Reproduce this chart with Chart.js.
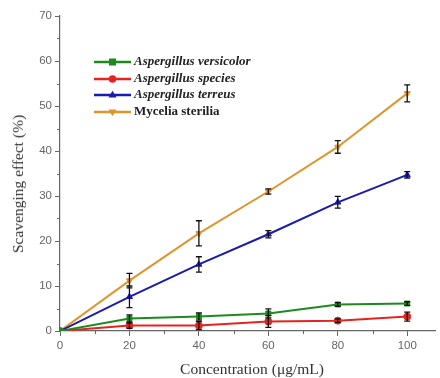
<!DOCTYPE html>
<html><head><meta charset="utf-8">
<script src="https://cdn.jsdelivr.net/npm/chart.js@4/dist/chart.umd.min.js"></script>
<style>
html,body{margin:0;padding:0;background:#fff;}
#wrap{position:relative;width:440px;height:378px;overflow:hidden;}
canvas{display:block;}
#legend{position:absolute;left:94px;top:53px;font-family:"Liberation Serif","DejaVu Serif",serif;font-size:13px;color:#222;}
#legend div{height:16.6px;line-height:16.6px;white-space:nowrap;}
#legend svg{vertical-align:middle;margin-right:2px;}
.title{position:absolute;font-family:"Liberation Serif","DejaVu Serif",serif;font-size:15.5px;color:#333;white-space:nowrap;line-height:18px;}
#ytitle{left:18px;top:184px;transform:translate(-50%,-50%) rotate(-90deg);}
#xtitle{left:252px;top:369px;transform:translate(-50%,-50%);}
</style></head><body>
<div id="wrap"><canvas id="c" width="440" height="378"></canvas>
<div id="legend"></div>
<div class="title" id="ytitle"></div>
<div class="title" id="xtitle"></div></div>
<script>
const concentrations = [0, 20, 40, 60, 80, 100];
const versicolor = [0, 2.8, 3.2, 3.9, 5.9, 6.1];
const versicolorErr = [0, 0.8, 0.8, 1.0, 0.4, 0.4];
const species = [0, 1.2, 1.2, 2.1, 2.3, 3.2];
const speciesErr = [0, 0.6, 0.9, 1.3, 0.4, 1.0];
const terreus = [0, 7.6, 14.8, 21.5, 28.6, 34.7];
const terreusErr = [0, 2.4, 1.7, 0.8, 1.3, 0.7];
const mycelia = [0, 11.2, 21.7, 31.0, 40.9, 52.8];
const myceliaErr = [0, 1.6, 2.8, 0.6, 1.4, 1.9];
const seriesNames = ["Aspergillus versicolor", "Aspergillus species", "Aspergillus terreus", "Mycelia sterilia"];
const yTicks = [0, 10, 20, 30, 40, 50, 60, 70];
const xTicks = [0, 20, 40, 60, 80, 100];
const xTitle = "Concentration (μg/mL)";
const yTitle = "Scavenging effect (%)";

const colors = ["#1e8a1e", "#e52420", "#1a1ab0", "#e0952c"];
const styles = ["rect", "circle", "triangle", "triangle"];
const rotations = [0, 0, 0, 180];
const vals = [versicolor, species, terreus, mycelia];
const errs = [versicolorErr, speciesErr, terreusErr, myceliaErr];

document.getElementById('xtitle').textContent = xTitle;
document.getElementById('ytitle').textContent = yTitle;

const datasets = vals.map((v, i) => ({
  label: seriesNames[i],
  data: concentrations.map((x, j) => ({x: x, y: v[j]})),
  errors: errs[i],
  borderColor: colors[i],
  backgroundColor: colors[i],
  borderWidth: 2,
  pointStyle: styles[i],
  rotation: rotations[i],
  pointRadius: 3.5,
  pointBorderWidth: 1,
  tension: 0
}));

const errorBars = {
  id: 'errorBars',
  afterDatasetsDraw(chart) {
    const ctx = chart.ctx;
    const xs = chart.scales.x, ys = chart.scales.y;
    ctx.save();
    ctx.strokeStyle = '#111';
    ctx.lineWidth = 1.3;
    chart.data.datasets.forEach(ds => {
      ds.data.forEach((p, j) => {
        const e = ds.errors[j];
        if (!e) return;
        const px = xs.getPixelForValue(p.x);
        const top = ys.getPixelForValue(p.y + e);
        const bot = ys.getPixelForValue(Math.max(p.y - e, 0));
        ctx.beginPath();
        ctx.moveTo(px, top); ctx.lineTo(px, bot);
        ctx.moveTo(px - 3, top); ctx.lineTo(px + 3, top);
        ctx.moveTo(px - 3, bot); ctx.lineTo(px + 3, bot);
        ctx.stroke();
      });
    });
    ctx.restore();
  }
};

const minorTicks = {
  id: 'minorTicks',
  afterDraw(chart) {
    const ctx = chart.ctx;
    const xs = chart.scales.x, ys = chart.scales.y;
    const a = chart.chartArea;
    ctx.save();
    ctx.strokeStyle = '#666';
    ctx.lineWidth = 1;
    for (let v = 5; v < 70; v += 10) {
      const py = Math.round(ys.getPixelForValue(v)) + 0.5;
      ctx.beginPath(); ctx.moveTo(a.left - 3, py); ctx.lineTo(a.left, py); ctx.stroke();
    }
    for (let v = 10; v < 110; v += 20) {
      const px = Math.round(xs.getPixelForValue(v)) + 0.5;
      ctx.beginPath(); ctx.moveTo(px, a.bottom); ctx.lineTo(px, a.bottom + 3); ctx.stroke();
    }
    ctx.restore();
  }
};

new Chart(document.getElementById('c'), {
  type: 'line',
  data: { datasets: datasets },
  plugins: [errorBars, minorTicks],
  options: {
    responsive: false,
    animation: false,
    layout: { padding: { top: 16, right: 2, left: 0, bottom: 0 } },
    plugins: { legend: { display: false }, tooltip: { enabled: false } },
    scales: {
      x: {
        type: 'linear', min: 0, max: 108,
        afterBuildTicks: s => { s.ticks = xTicks.map(v => ({value: v})); },
        afterFit: s => { s.height = 47; },
        grid: { display: true, drawOnChartArea: false, drawTicks: true, tickLength: 5, color: '#666' },
        border: { display: true, color: '#666', width: 1.2 },
        ticks: { color: '#666', font: { family: 'Liberation Sans', size: 11.5 }, padding: 3, maxRotation: 0 }
      },
      y: {
        min: 0, max: 70,
        afterBuildTicks: s => { s.ticks = yTicks.map(v => ({value: v})); },
        afterFit: s => { s.width = 60; },
        grid: { display: true, drawOnChartArea: false, drawTicks: true, tickLength: 5, color: '#666' },
        border: { display: true, color: '#666', width: 1.2 },
        ticks: { color: '#666', font: { family: 'Liberation Sans', size: 11.5 }, padding: 3 }
      }
    }
  }
});

// HTML legend built from the series names
const leg = document.getElementById('legend');
const markers = [
  '<rect x="15" y="3.5" width="7" height="7" fill="C"/>',
  '<circle cx="18.5" cy="7" r="3.8" fill="C"/>',
  '<polygon points="18.5,2.8 22.5,9.5 14.5,9.5" fill="C"/>',
  '<polygon points="18.5,11.2 22.5,4.5 14.5,4.5" fill="C"/>'
];
seriesNames.forEach((n, i) => {
  const d = document.createElement('div');
  const style = i === 3 ? 'font-weight:bold' : 'font-style:italic;font-weight:bold';
  d.innerHTML = '<svg width="38" height="14"><line x1="0" y1="7" x2="37" y2="7" stroke="' + colors[i] + '" stroke-width="2.5"/>' +
    markers[i].replace('C', colors[i]) + '</svg><span style="' + style + '">' + n + '</span>';
  leg.appendChild(d);
});
</script>
</body></html>
